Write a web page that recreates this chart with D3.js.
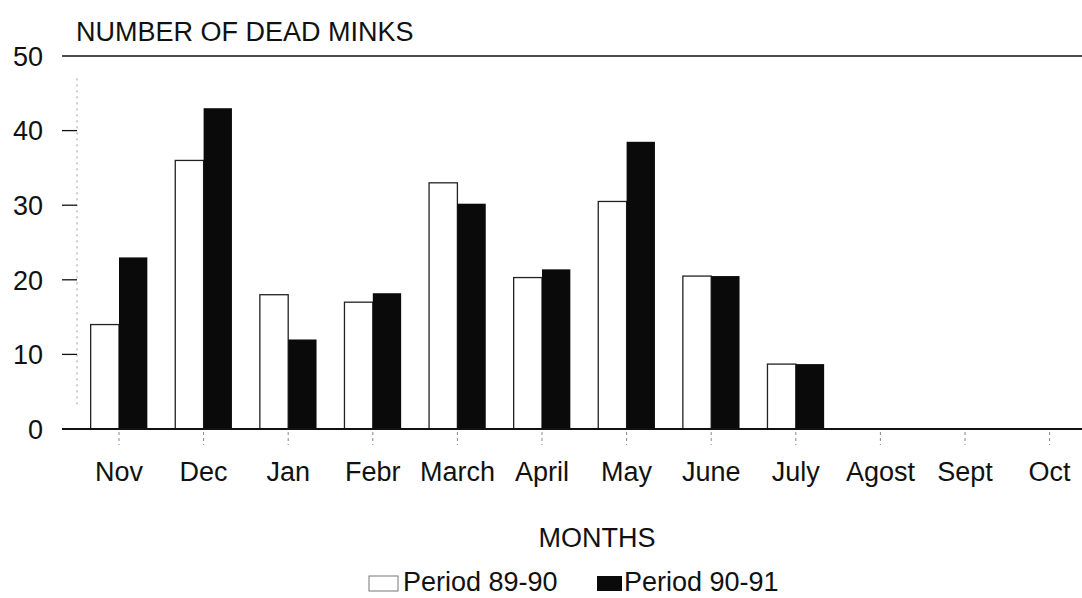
<!DOCTYPE html>
<html>
<head>
<meta charset="utf-8">
<script src="https://cdn.jsdelivr.net/npm/d3@7"></script>
<style>
  html, body { margin: 0; padding: 0; background: #fff; }
  svg { display: block; font-family: "Liberation Sans", Arial, sans-serif; }
</style>
</head>
<body>
<svg id="chart" width="1082" height="598"></svg>
<script>
// Monthly mink mortality, two seasons
const months = ["Nov", "Dec", "Jan", "Febr", "March", "April", "May", "June", "July", "Agost", "Sept", "Oct"];
const series = ["Period 89-90", "Period 90-91"];
const period8990 = [14, 36, 18, 17, 33, 20.3, 30.5, 20.5, 8.7, null, null, null];
const period9091 = [23, 43, 12, 18.2, 30.2, 21.4, 38.5, 20.5, 8.7, null, null, null];
const yTicks = [0, 10, 20, 30, 40, 50];

const svg = d3.select("#chart");
const W = 1082;

const x0 = d3.scaleBand()
  .domain(months)
  .range([76.7, 1091.9])
  .paddingInner(0.33)
  .paddingOuter(0.165);

const x1 = d3.scaleBand()
  .domain(series)
  .range([0, x0.bandwidth()]);

const y = d3.scaleLinear().domain([0, 50]).range([429, 56]);

const fills = { "Period 89-90": "#ffffff", "Period 90-91": "#0a0a0a" };
const valuesBySeries = { "Period 89-90": period8990, "Period 90-91": period9091 };

// faint dotted vertical axis
svg.append("line")
  .attr("x1", 77).attr("x2", 77)
  .attr("y1", y(47)).attr("y2", y(3))
  .attr("stroke", "#999").attr("stroke-width", 1)
  .attr("stroke-dasharray", "2,4");

// y tick marks and labels
const yAxis = svg.append("g");
yAxis.selectAll("line.tick")
  .data(yTicks.filter(d => d > 0 && d < 50))
  .join("line")
  .attr("class", "tick")
  .attr("x1", 62).attr("x2", 77)
  .attr("y1", d => y(d)).attr("y2", d => y(d))
  .attr("stroke", "#111").attr("stroke-width", 1.3);

yAxis.selectAll("text")
  .data(yTicks)
  .join("text")
  .attr("x", 43)
  .attr("y", d => y(d))
  .attr("dy", "0.36em")
  .attr("text-anchor", "end")
  .attr("font-size", 27)
  .attr("fill", "#111")
  .text(d => d);

// bars
const groups = svg.append("g")
  .selectAll("g")
  .data(months)
  .join("g")
  .attr("transform", d => `translate(${x0(d)},0)`);

groups.selectAll("rect")
  .data((m, i) => series.map(s => ({ s, v: valuesBySeries[s][i] })).filter(d => d.v != null))
  .join("rect")
  .attr("x", d => x1(d.s))
  .attr("width", x1.bandwidth())
  .attr("y", d => y(d.v))
  .attr("height", d => y(0) - y(d.v))
  .attr("fill", d => fills[d.s])
  .attr("stroke", d => d.s === series[0] ? "#222" : "none")
  .attr("stroke-width", 1.3);

// top line at 50 and baseline at 0
svg.append("line")
  .attr("x1", 62).attr("x2", W)
  .attr("y1", y(50)).attr("y2", y(50))
  .attr("stroke", "#111").attr("stroke-width", 1.5);
svg.append("line")
  .attr("x1", 62).attr("x2", W)
  .attr("y1", y(0)).attr("y2", y(0))
  .attr("stroke", "#111").attr("stroke-width", 1.8);

// x tick marks and month labels
const xc = d => x0(d) + x0.bandwidth() / 2;
svg.append("g").selectAll("line")
  .data(months)
  .join("line")
  .attr("x1", xc).attr("x2", xc)
  .attr("y1", y(0) + 3).attr("y2", y(0) + 16)
  .attr("stroke", "#888").attr("stroke-width", 1)
  .attr("stroke-dasharray", "3,3");

svg.append("g").selectAll("text")
  .data(months)
  .join("text")
  .attr("x", xc)
  .attr("y", 481)
  .attr("text-anchor", "middle")
  .attr("font-size", 27)
  .attr("fill", "#111")
  .text(d => d);

// titles
svg.append("text")
  .attr("x", 76).attr("y", 41)
  .attr("font-size", 27)
  .attr("fill", "#111")
  .text("NUMBER OF DEAD MINKS");

svg.append("text")
  .attr("x", 597).attr("y", 547)
  .attr("text-anchor", "middle")
  .attr("font-size", 27)
  .attr("fill", "#111")
  .text("MONTHS");

// legend
const legend = svg.append("g");
const legendItems = [
  { s: series[0], sx: 369, tx: 403 },
  { s: series[1], sx: 597, tx: 624 }
];
legend.selectAll("rect")
  .data(legendItems)
  .join("rect")
  .attr("x", d => d.sx)
  .attr("y", 576)
  .attr("width", d => d.s === series[0] ? 29 : 25)
  .attr("height", 15)
  .attr("fill", d => fills[d.s])
  .attr("stroke", d => d.s === series[0] ? "#777" : "none")
  .attr("stroke-width", 1);
legend.selectAll("text")
  .data(legendItems)
  .join("text")
  .attr("x", d => d.tx)
  .attr("y", 591)
  .attr("font-size", 27)
  .attr("fill", "#111")
  .text(d => d.s);
</script>
</body>
</html>
